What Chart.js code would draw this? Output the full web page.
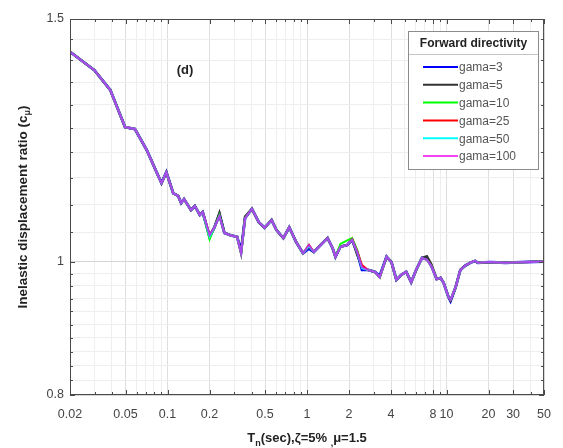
<!DOCTYPE html>
<html>
<head>
<meta charset="utf-8">
<script src="https://cdn.jsdelivr.net/npm/chart.js@4.4.1/dist/chart.umd.min.js"></script>
<style>
  html, body { margin: 0; padding: 0; background: #fff; }
  #chart { display: block; }
</style>
</head>
<body>
<canvas id="chart" width="563" height="448"></canvas>
<script>
const periods = [
  0.02, 0.0299, 0.0389, 0.0496, 0.0584, 0.0709, 0.0905, 0.0981, 0.1099, 0.1192,
  0.1252, 0.1314, 0.1472, 0.157, 0.1704, 0.1788, 0.2003, 0.2172, 0.2356, 0.2556,
  0.2817, 0.3156, 0.3368, 0.3594, 0.4027, 0.4509, 0.497, 0.5568, 0.6038, 0.6764,
  0.7457, 0.8355, 0.936, 1.032, 1.119, 1.253, 1.404, 1.523, 1.599, 1.734,
  1.942, 2.106, 2.284, 2.478, 2.732, 3.059, 3.318, 3.716, 4.03, 4.37,
  4.74, 5.14, 5.58, 6.05, 6.67, 7.23, 7.8, 8.5, 9.07, 9.53,
  10.34, 10.68, 11.58, 12.56, 13.6, 14.8, 16.0, 16.8, 20.4, 26.5,
  34.9, 50
];

const gama3 = [
  1.420, 1.377, 1.332, 1.252, 1.248, 1.205, 1.140, 1.161, 1.121, 1.116,
  1.103, 1.110, 1.090, 1.097, 1.081, 1.086, 1.042, 1.059, 1.082, 1.049,
  1.045, 1.042, 1.018, 1.075, 1.092, 1.068, 1.058, 1.072, 1.054, 1.040,
  1.059, 1.033, 1.014, 1.022, 1.016, 1.028, 1.040, 1.023, 1.008, 1.025,
  1.028, 1.037, 1.016, 0.986, 0.986, 0.983, 0.976, 1.008, 0.999, 0.970,
  0.978, 0.983, 0.966, 0.986, 1.006, 1.006, 0.992, 0.971, 0.973, 0.965,
  0.942, 0.936, 0.957, 0.986, 0.993, 0.998, 1.001, 0.998, 0.999, 0.998,
  0.999, 1.000
];

const gama5 = [
  1.420, 1.377, 1.332, 1.252, 1.248, 1.205, 1.140, 1.161, 1.121, 1.116,
  1.103, 1.110, 1.090, 1.097, 1.081, 1.086, 1.043, 1.059, 1.085, 1.049,
  1.045, 1.042, 1.014, 1.078, 1.092, 1.068, 1.058, 1.072, 1.054, 1.040,
  1.059, 1.033, 1.014, 1.025, 1.016, 1.028, 1.040, 1.023, 1.008, 1.025,
  1.028, 1.037, 1.012, 0.991, 0.986, 0.983, 0.974, 1.008, 0.999, 0.970,
  0.978, 0.983, 0.966, 0.986, 1.006, 1.009, 0.995, 0.971, 0.973, 0.965,
  0.942, 0.937, 0.957, 0.986, 0.993, 0.998, 1.001, 0.998, 0.999, 0.998,
  0.999, 1.000
];

const gama10 = [
  1.420, 1.377, 1.332, 1.252, 1.248, 1.205, 1.140, 1.161, 1.121, 1.116,
  1.103, 1.110, 1.090, 1.097, 1.081, 1.086, 1.038, 1.059, 1.081, 1.049,
  1.045, 1.042, 1.014, 1.075, 1.092, 1.068, 1.058, 1.072, 1.054, 1.040,
  1.059, 1.033, 1.014, 1.028, 1.016, 1.028, 1.040, 1.023, 1.008, 1.030,
  1.036, 1.040, 1.020, 0.991, 0.986, 0.983, 0.974, 1.008, 0.999, 0.970,
  0.978, 0.983, 0.966, 0.986, 1.006, 1.003, 0.992, 0.971, 0.973, 0.965,
  0.942, 0.938, 0.957, 0.986, 0.993, 0.998, 1.001, 0.998, 0.999, 0.998,
  0.999, 1.000
];

const gama25 = [
  1.420, 1.377, 1.332, 1.252, 1.248, 1.205, 1.140, 1.161, 1.121, 1.116,
  1.103, 1.110, 1.090, 1.097, 1.081, 1.086, 1.045, 1.059, 1.079, 1.049,
  1.045, 1.042, 1.014, 1.075, 1.092, 1.068, 1.058, 1.072, 1.054, 1.040,
  1.059, 1.033, 1.014, 1.028, 1.016, 1.028, 1.040, 1.023, 1.008, 1.025,
  1.028, 1.038, 1.018, 0.994, 0.986, 0.983, 0.974, 1.008, 0.999, 0.970,
  0.978, 0.983, 0.966, 0.986, 1.006, 1.003, 0.992, 0.971, 0.973, 0.965,
  0.942, 0.938, 0.957, 0.986, 0.993, 0.998, 1.001, 0.998, 0.999, 0.998,
  0.999, 1.000
];

const gama50 = [
  1.420, 1.377, 1.332, 1.252, 1.248, 1.205, 1.140, 1.161, 1.121, 1.116,
  1.103, 1.110, 1.090, 1.097, 1.081, 1.086, 1.043, 1.059, 1.079, 1.049,
  1.045, 1.042, 1.014, 1.075, 1.092, 1.068, 1.058, 1.072, 1.054, 1.040,
  1.059, 1.033, 1.014, 1.026, 1.016, 1.028, 1.040, 1.023, 1.008, 1.025,
  1.028, 1.037, 1.016, 0.989, 0.986, 0.983, 0.974, 1.008, 0.999, 0.970,
  0.978, 0.983, 0.966, 0.986, 1.006, 1.003, 0.992, 0.971, 0.973, 0.965,
  0.942, 0.938, 0.957, 0.986, 0.993, 0.998, 1.001, 0.998, 0.999, 0.998,
  0.999, 1.000
];

const gama100 = [
  1.420, 1.377, 1.332, 1.252, 1.248, 1.205, 1.140, 1.161, 1.121, 1.116,
  1.103, 1.110, 1.090, 1.097, 1.081, 1.086, 1.045, 1.059, 1.079, 1.049,
  1.045, 1.042, 1.014, 1.075, 1.092, 1.068, 1.058, 1.072, 1.054, 1.040,
  1.059, 1.033, 1.014, 1.028, 1.016, 1.028, 1.040, 1.023, 1.008, 1.025,
  1.028, 1.037, 1.016, 0.991, 0.986, 0.983, 0.974, 1.008, 0.999, 0.970,
  0.978, 0.983, 0.966, 0.986, 1.006, 1.003, 0.992, 0.971, 0.973, 0.965,
  0.942, 0.938, 0.957, 0.986, 0.993, 0.998, 1.001, 0.998, 0.999, 0.998,
  0.999, 1.000
];

const seriesLabels = ["gama=3", "gama=5", "gama=10", "gama=25", "gama=50", "gama=100"];
const seriesValues = [gama3, gama5, gama10, gama25, gama50, gama100];
const seriesColors = ["#0000ff", "#333333", "#00ff00", "#ff0000", "#00ffff", "rgba(235,0,235,0.72)"];
const seriesWidths = [2.8, 2.4, 2, 2, 2, 2];

const xTickValues = [
  0.02, 0.03, 0.04, 0.05, 0.06, 0.07, 0.08, 0.09,
  0.1, 0.2, 0.3, 0.4, 0.5, 0.6, 0.7, 0.8, 0.9,
  1, 2, 3, 4, 5, 6, 7, 8, 9,
  10, 20, 30, 40, 50
];
const xLabelValues = [0.02, 0.05, 0.1, 0.2, 0.5, 1, 2, 4, 8, 10, 20, 30, 50];
const xLabelText = ["0.02", "0.05", "0.1", "0.2", "0.5", "1", "2", "4", "8", "10", "20", "30", "50"];

const yTickValues = [
  0.8, 0.82, 0.84, 0.86, 0.88, 0.9, 0.92, 0.94, 0.96, 0.98,
  1, 1.05, 1.1, 1.15, 1.2, 1.25, 1.3, 1.35, 1.4, 1.45, 1.5
];
const yLabelValues = [0.8, 1, 1.5];
const yLabelText = ["0.8", "1", "1.5"];

const FONT = '"Liberation Sans", Arial, sans-serif';

function labelIndex(list, v) {
  return list.findIndex((t) => Math.abs(t - v) < 1e-9 * Math.max(1, t));
}

const datasets = seriesLabels.map((label, i) => ({
  label,
  data: periods.map((p, j) => ({ x: p, y: seriesValues[i][j] })),
  borderColor: seriesColors[i],
  backgroundColor: seriesColors[i],
  borderWidth: seriesWidths[i],
  pointRadius: 0,
  tension: 0,
  order: seriesLabels.length - i
}));

const framePlugin = {
  id: "frame",
  afterDraw(chart) {
    const { ctx, chartArea: a, scales } = chart;
    ctx.save();

    // box round the axes
    ctx.strokeStyle = "#4a4a4a";
    ctx.lineWidth = 1;
    ctx.strokeRect(a.left + 0.5, a.top + 0.5, a.right - a.left - 1, a.bottom - a.top - 1);

    // inward ticks, all four sides
    ctx.beginPath();
    xTickValues.forEach((v) => {
      const x = Math.round(scales.x.getPixelForValue(v)) + 0.5;
      const len = labelIndex(xLabelValues, v) >= 0 ? 5 : 3;
      ctx.moveTo(x, a.bottom); ctx.lineTo(x, a.bottom - len);
      ctx.moveTo(x, a.top); ctx.lineTo(x, a.top + len);
    });
    yTickValues.forEach((v) => {
      const y = Math.round(scales.y.getPixelForValue(v)) + 0.5;
      const len = labelIndex(yLabelValues, v) >= 0 ? 5 : 3;
      ctx.moveTo(a.left, y); ctx.lineTo(a.left + len, y);
      ctx.moveTo(a.right, y); ctx.lineTo(a.right - len, y);
    });
    ctx.stroke();

    ctx.fillStyle = "#222";

    // panel tag
    ctx.font = "bold 13px " + FONT;
    ctx.textAlign = "center";
    ctx.textBaseline = "middle";
    ctx.fillText("(d)", 185, 70);

    // x title with subscripts
    const parts = [
      { t: "T", sub: false },
      { t: "n", sub: true },
      { t: "(sec),\u03b6=5% ", sub: false },
      { t: ",", sub: true },
      { t: "\u03bc=1.5", sub: false }
    ];
    const big = "bold 13px " + FONT;
    const small = "bold 9px " + FONT;
    let total = 0;
    parts.forEach((p) => { ctx.font = p.sub ? small : big; p.w = ctx.measureText(p.t).width; total += p.w; });
    let x = (a.left + a.right) / 2 - total / 2;
    ctx.textAlign = "left";
    ctx.textBaseline = "alphabetic";
    parts.forEach((p) => {
      ctx.font = p.sub ? small : big;
      ctx.fillText(p.t, x, p.sub ? 446 : 442);
      x += p.w;
    });

    // y title, rotated
    ctx.save();
    ctx.translate(27, (a.top + a.bottom) / 2);
    ctx.rotate(-Math.PI / 2);
    const yparts = [
      { t: "Inelastic displacement ratio (c", sub: false },
      { t: "\u03bc", sub: true },
      { t: ")", sub: false }
    ];
    const ybig = "bold 13.5px " + FONT;
    const ysmall = "bold 9px " + FONT;
    total = 0;
    yparts.forEach((p) => { ctx.font = p.sub ? ysmall : ybig; p.w = ctx.measureText(p.t).width; total += p.w; });
    x = -total / 2;
    yparts.forEach((p) => {
      ctx.font = p.sub ? ysmall : ybig;
      ctx.fillText(p.t, x, p.sub ? 3 : 0);
      x += p.w;
    });
    ctx.restore();

    // legend box
    const L = { left: 408, top: 31, right: 539, bottom: 170 };
    ctx.fillStyle = "#fff";
    ctx.fillRect(L.left, L.top, L.right - L.left, L.bottom - L.top);
    ctx.strokeStyle = "#8c8c8c";
    ctx.strokeRect(L.left + 0.5, L.top + 0.5, L.right - L.left - 1, L.bottom - L.top - 1);
    ctx.strokeStyle = "#c4c4c4";
    ctx.beginPath();
    ctx.moveTo(L.left + 1, 54.5);
    ctx.lineTo(L.right - 1, 54.5);
    ctx.stroke();

    ctx.fillStyle = "#222";
    ctx.font = "bold 12px " + FONT;
    ctx.textAlign = "center";
    ctx.textBaseline = "middle";
    ctx.fillText("Forward directivity", (L.left + L.right) / 2, 44);

    ctx.textAlign = "left";
    ctx.font = "12px " + FONT;
    chart.data.datasets.forEach((ds, i) => {
      const y = 67 + i * 17.8;
      ctx.strokeStyle = ds.borderColor;
      ctx.lineWidth = 2;
      ctx.beginPath();
      ctx.moveTo(423, y);
      ctx.lineTo(458, y);
      ctx.stroke();
      ctx.fillStyle = "#555";
      ctx.fillText(ds.label, 459, y + 1);
    });

    ctx.restore();
  }
};

new Chart(document.getElementById("chart"), {
  type: "line",
  data: { datasets },
  options: {
    responsive: false,
    animation: false,
    layout: { padding: { top: 19, right: 11, left: 0, bottom: 0 } },
    plugins: { legend: { display: false }, tooltip: { enabled: false } },
    scales: {
      x: {
        type: "logarithmic",
        min: 0.02,
        max: 50,
        afterBuildTicks: (scale) => { scale.ticks = xTickValues.map((v) => ({ value: v })); },
        afterFit: (scale) => { scale.height = 53; },
        border: { display: false },
        grid: {
          drawTicks: false,
          color: (c) => (labelIndex(xLabelValues, c.tick.value) >= 0 ? "#dedede" : "#eeeeee")
        },
        ticks: {
          autoSkip: false,
          maxRotation: 0,
          padding: 12,
          color: "#444",
          font: { family: FONT, size: 12.5 },
          callback: (v) => {
            const k = labelIndex(xLabelValues, v);
            return k >= 0 ? xLabelText[k] : "";
          }
        }
      },
      y: {
        type: "logarithmic",
        min: 0.8,
        max: 1.5,
        afterBuildTicks: (scale) => { scale.ticks = yTickValues.map((v) => ({ value: v })); },
        afterFit: (scale) => { scale.width = 70; },
        border: { display: false },
        grid: {
          drawTicks: false,
          color: (c) => (labelIndex(yLabelValues, c.tick.value) >= 0 ? "#d6d6d6" : "#eeeeee")
        },
        ticks: {
          autoSkip: false,
          padding: 6,
          color: "#444",
          font: { family: FONT, size: 12.5 },
          callback: (v) => {
            const k = labelIndex(yLabelValues, v);
            return k >= 0 ? yLabelText[k] : "";
          }
        }
      }
    }
  },
  plugins: [framePlugin]
});
</script>
</body>
</html>
